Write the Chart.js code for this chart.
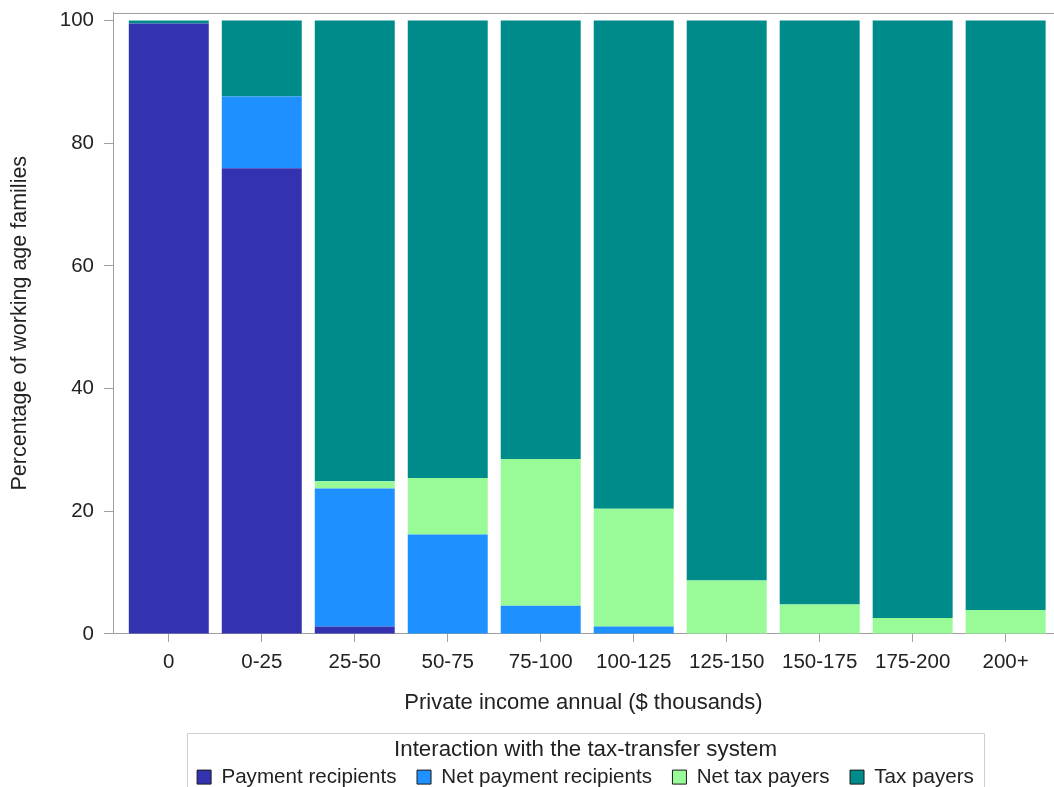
<!DOCTYPE html>
<html><head><meta charset="utf-8">
<script src="https://cdn.jsdelivr.net/npm/chart.js@4/dist/chart.umd.min.js"></script>
<style>html,body{margin:0;padding:0;background:#fff;overflow:hidden}#wrap{width:1054px;height:787px;position:relative}</style>
</head><body><div id="wrap"><canvas id="c" width="1054" height="787"></canvas></div>
<script>
const categories = ['0','0-25','25-50','50-75','75-100','100-125','125-150','150-175','175-200','200+'];
const paymentRecipients    = [99.5, 75.9,  1.2,  0.0,  0.0,  0.0,  0.0,  0.0,  0.0,  0.0];
const netPaymentRecipients = [ 0.0, 11.7, 22.5, 16.2,  4.6,  1.2,  0.0,  0.0,  0.0,  0.0];
const netTaxPayers         = [ 0.0,  0.0,  1.2,  9.2, 23.9, 19.2,  8.7,  4.8,  2.6,  3.9];
const taxPayers            = [ 0.5, 12.4, 75.1, 74.6, 71.5, 79.6, 91.3, 95.2, 97.4, 96.1];
const yTicks = [0, 20, 40, 60, 80, 100];
const seriesNames = ['Payment recipients','Net payment recipients','Net tax payers','Tax payers'];
const seriesColors = ['#3333B2','#1E90FF','#98FB98','#008B8B'];

Chart.defaults.font.family = '"Liberation Sans", Arial, sans-serif';
Chart.defaults.color = '#222';

const toPts = arr => arr.map((v, i) => ({x: i, y: v}));
const allSeries = [paymentRecipients, netPaymentRecipients, netTaxPayers, taxPayers];

const framePlugin = {
  id: 'frame',
  afterLayout(chart) {
    const lg = chart.legend;
    if (lg) {
      lg.left += 2; lg.right += 2;
      if (typeof lg.adjustHitBoxes === 'function') lg.adjustHitBoxes();
    }
  },
  afterDraw(chart) {
    const {ctx, chartArea} = chart;
    ctx.save();
    ctx.strokeStyle = '#a0a0a0';
    ctx.lineWidth = 1;
    ctx.beginPath();
    ctx.moveTo(chartArea.left, Math.round(chartArea.top) + 0.5);
    ctx.lineTo(chartArea.right, Math.round(chartArea.top) + 0.5);
    ctx.stroke();
    const lg = chart.legend;
    if (lg && lg.legendHitBoxes && lg.legendHitBoxes.length) {
      const hb = lg.legendHitBoxes;
      const l = Math.min(...hb.map(h => h.left)) - 10;
      const r = Math.max(...hb.map(h => h.left + h.width)) + 10;
      ctx.strokeStyle = '#cfcfcf';
      ctx.beginPath();
      ctx.rect(Math.round(l) + 0.5, 733.5, Math.round(r - l), 80);
      ctx.stroke();
    }
    ctx.restore();
  }
};

new Chart(document.getElementById('c'), {
  type: 'bar',
  data: {
    datasets: allSeries.map((arr, k) => ({
      label: seriesNames[k],
      data: toPts(arr),
      backgroundColor: seriesColors[k],
      borderWidth: 0,
      categoryPercentage: 0.86,
      barPercentage: 1
    }))
  },
  options: {
    responsive: false,
    animation: false,
    layout: {autoPadding: false, padding: {top: 12.5, left: 0, right: 0, bottom: -10.4}},
    plugins: {
      tooltip: {enabled: false},
      legend: {
        position: 'bottom',
        fullSize: false,
        labels: {
          boxWidth: 14, boxHeight: 14, padding: 20.5,
          font: {size: 20.6},
          color: '#222',
          generateLabels(chart) {
            const items = Chart.defaults.plugins.legend.labels.generateLabels(chart);
            items.forEach(it => { it.strokeStyle = '#1a1a1a'; it.lineWidth = 1; });
            return items;
          }
        },
        title: {
          display: true,
          text: 'Interaction with the tax-transfer system',
          font: {size: 22.3, lineHeight: 1},
          color: '#222',
          padding: {top: 0, bottom: -14.9}
        }
      }
    },
    scales: {
      x: {
        type: 'linear',
        stacked: true,
        min: -0.6, max: 9.52,
        offset: false,
        afterBuildTicks(s) { s.ticks = categories.map((c, i) => ({value: i})); },
        afterFit(s) { s.height = 105; s.paddingLeft = 0; s.paddingRight = 0; },
        ticks: {
          autoSkip: false, maxRotation: 0, padding: 8,
          font: {size: 20.5}, color: '#222',
          callback: v => categories[v] ?? ''
        },
        grid: {offset: false, drawOnChartArea: false, drawTicks: true, tickLength: 8, color: '#a0a0a0'},
        border: {display: true, color: '#a0a0a0'},
        title: {
          display: true, text: 'Private income annual ($ thousands)',
          font: {size: 22}, color: '#222', padding: {top: 0, bottom: 23}
        }
      },
      y: {
        stacked: true,
        min: 0, max: 101.3,
        afterBuildTicks(s) { s.ticks = yTicks.map(v => ({value: v})); },
        afterFit(s) { s.width = 113; s.paddingTop = 0; s.paddingBottom = 0; },
        ticks: {padding: 10, font: {size: 20.5}, color: '#222'},
        grid: {drawOnChartArea: false, drawTicks: true, tickLength: 9, color: '#a0a0a0'},
        border: {display: true, color: '#a0a0a0'},
        title: {
          display: true, text: 'Percentage of working age families',
          font: {size: 21.5}, color: '#222', padding: {top: 7, bottom: 0}
        }
      }
    }
  },
  plugins: [framePlugin]
});
</script>
</body></html>
